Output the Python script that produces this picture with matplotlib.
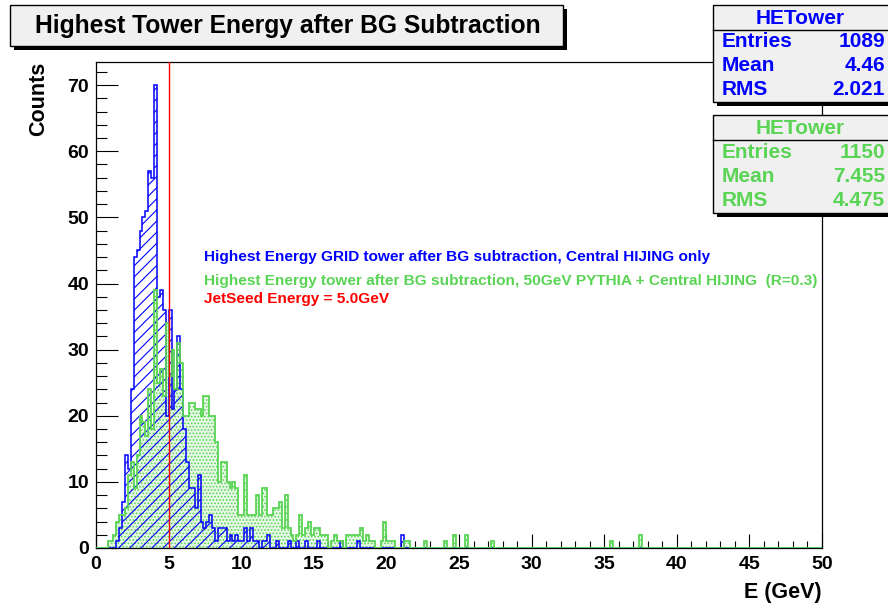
import numpy as np
import matplotlib
matplotlib.use('Agg')
import matplotlib.pyplot as plt
from matplotlib.patches import Rectangle

plt.rcParams['font.family'] = ['Liberation Sans', 'DejaVu Sans']
plt.rcParams['font.weight'] = 'bold'
plt.rcParams['hatch.linewidth'] = 0.8

# ---------------- data ----------------
bin_width = 0.2
x_range = (0.0, 50.0)

blue_start = 1.4
blue_counts = [1, 3, 7, 14, 12, 24, 44, 45, 48, 50, 51, 57, 56, 70, 38, 39, 36, 20, 36, 21,
               24, 32, 24, 18, 13, 9, 9, 6, 11, 4, 3, 4, 5, 3, 1, 3, 3, 3, 1, 2,
               1, 2, 1, 1, 3, 1, 3, 1, 1, 0, 1, 1, 2, 0, 0, 1, 0, 0, 0, 1,
               0, 0, 1, 0, 0, 1, 0, 0, 0, 1, 0, 0, 0, 0, 0, 0, 0, 1, 0, 0,
               0, 0, 0, 1, 0, 0, 0, 0, 0, 0, 0, 0, 0, 0, 0, 0, 0, 0, 2]

green_start = 0.8
green_counts = [1, 1, 2, 4, 5, 5, 6, 11, 13, 9, 14, 20, 19, 17, 24, 18, 39, 25, 27, 23,
                34, 26, 30, 24, 31, 28, 20, 20, 22, 22, 21, 21, 20, 23, 23, 20, 20, 16, 10, 13,
                13, 10, 9, 10, 9, 5, 5, 11, 5, 5, 5, 8, 5, 9, 9, 5, 5, 6, 6, 7,
                3, 8, 3, 2, 1, 2, 5, 2, 3, 4, 2, 3, 3, 2, 2, 2, 0, 1, 2, 1,
                1, 0, 2, 2, 2, 2, 2, 3, 1, 2, 1, 1, 0, 0, 1, 4, 1, 1, 1, 0,
                0, 0, 1, 1, 0, 0, 0, 0, 0, 1, 0, 0, 0, 0, 0, 0, 1, 0, 0, 2,
                0, 0, 0, 2, 0, 0, 0, 0, 0, 0, 0, 0, 1]
green_tail_energy = [35.4, 37.4]
green_tail_counts = [1, 2]

jetseed_energy = 5.0

stats_blue = [("Entries", "1089"), ("Mean", "4.46"), ("RMS", "2.021")]
stats_green = [("Entries", "1150"), ("Mean", "7.455"), ("RMS", "4.475")]

title = "Highest Tower Energy after BG Subtraction"
legend_lines = [
    ("Highest Energy GRID tower after BG subtraction, Central HIJING only", "#0000ff"),
    ("Highest Energy tower after BG subtraction, 50GeV PYTHIA + Central HIJING  (R=0.3)", "#59d454"),
    ("JetSeed Energy = 5.0GeV", "#ff0000"),
]

# ---------------- histograms ----------------
nbins = int(round((x_range[1] - x_range[0]) / bin_width))
edges = np.linspace(x_range[0], x_range[1], nbins + 1)


def to_hist(start, counts, tail_e=(), tail_n=()):
    h = np.zeros(nbins)
    i0 = int(round(start / bin_width))
    h[i0:i0 + len(counts)] = counts
    for e, n in zip(tail_e, tail_n):
        h[int(round(e / bin_width))] = n
    return h


h_blue = to_hist(blue_start, blue_counts)
h_green = to_hist(green_start, green_counts, green_tail_energy, green_tail_counts)

BLUE = '#0000ff'
GREEN = '#59d454'
RED = '#ff0000'
BOXC = '#f0f0f0'

W, H = 888, 604
fig = plt.figure(figsize=(W / 100, H / 100), dpi=100)
fig.patch.set_facecolor('white')

L, R, B, T = 96, 822, 548, 62
ax = fig.add_axes([L / W, 1 - B / H, (R - L) / W, (B - T) / H])
ax.set_xlim(*x_range)
ax.set_ylim(0, 73.5)

ax.stairs(h_green, edges, fill=True, facecolor='#e8f8e7', edgecolor=GREEN,
          linewidth=0, hatch='.....', zorder=2)
ax.stairs(h_blue, edges, fill=True, facecolor='none', edgecolor=BLUE,
          linewidth=1.1, hatch='///', zorder=3)
ax.stairs(h_green, edges, fill=False, edgecolor=GREEN, linewidth=1.3, zorder=4)
ax.axvline(jetseed_energy, color=RED, linewidth=1.0, zorder=5)

ax.set_xticks(np.arange(0, 51, 5))
ax.set_xticks(np.arange(0, 51, 1), minor=True)
ax.set_yticks(np.arange(0, 71, 10))
ax.set_yticks(np.arange(0, 73, 2), minor=True)
ax.tick_params(axis='both', which='both', direction='in', top=False, right=False,
               width=0.8, labelsize=14)
ax.tick_params(axis='x', which='major', length=10, pad=6)
ax.tick_params(axis='x', which='minor', length=5)
ax.tick_params(axis='y', which='major', length=16, pad=5)
ax.tick_params(axis='y', which='minor', length=8)
for lab in ax.get_xticklabels() + ax.get_yticklabels():
    lab.set_fontweight('bold')
for s in ax.spines.values():
    s.set_linewidth(0.9)

ax.set_xlabel("E (GeV)", loc='right', fontsize=15.5, fontweight='bold', labelpad=6)
ax.set_ylabel("Counts", loc='top', fontsize=15.5, fontweight='bold', labelpad=13)

for i, (txt, col) in enumerate(legend_lines):
    yy = [257, 281, 299][i]
    fig.text(204 / W, 1 - yy / H, txt, color=col, fontsize=11.1, fontweight='bold',
             ha='left', va='center')

# overlay in pixel coordinates for boxes
ov = fig.add_axes([0, 0, 1, 1], zorder=10)
ov.set_xlim(0, W)
ov.set_ylim(H, 0)
ov.axis('off')
ov.patch.set_alpha(0)


def box(x0, y0, x1, y1, sh=4):
    ov.add_patch(Rectangle((x0 + sh, y0 + sh), x1 - x0, y1 - y0, facecolor='black',
                           edgecolor='none', zorder=1))
    ov.add_patch(Rectangle((x0, y0), x1 - x0, y1 - y0, facecolor=BOXC,
                           edgecolor='black', linewidth=1.0, zorder=2))


# title box
box(10, 5, 563, 46)
ov.text(288, 25.5, title, fontsize=17.7, fontweight='bold', ha='center', va='center',
        zorder=3)

# stats boxes
for (y0, y1, hdr_y, rows, col) in [(5, 102, 29.5, stats_blue, BLUE),
                                   (115, 213, 140, stats_green, GREEN)]:
    box(713, y0, 893, y1, sh=4)
    ov.plot([713, 893], [hdr_y, hdr_y], color='black', lw=1.0, zorder=3)
    ov.text(800, (y0 + hdr_y) / 2 + 1, "HETower", color=col, fontsize=15,
            fontweight='bold', ha='center', va='center', zorder=3)
    step = (y1 - hdr_y) / 3
    for k, (lab, val) in enumerate(rows):
        yc = hdr_y + step * (k + 0.5)
        ov.text(722, yc, lab, color=col, fontsize=15, fontweight='bold',
                ha='left', va='center', zorder=3)
        ov.text(885, yc, val, color=col, fontsize=15, fontweight='bold',
                ha='right', va='center', zorder=3)

fig.savefig('out.png', dpi=100)
